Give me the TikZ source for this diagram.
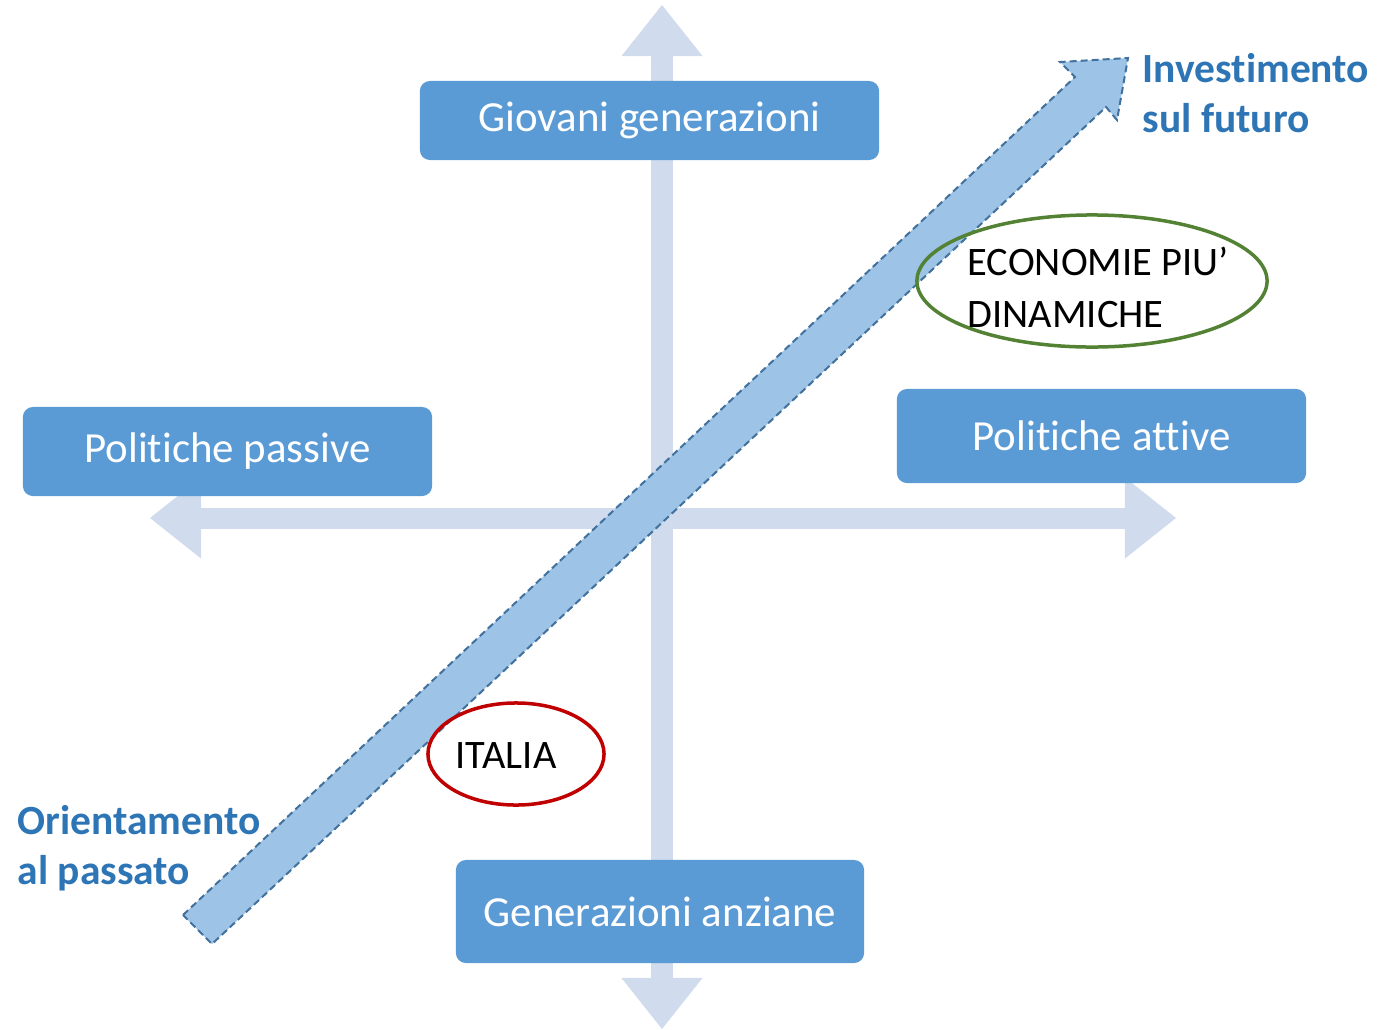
\documentclass[tikz,border=0pt]{standalone}
\usepackage{fontspec}
\setmainfont{Carlito}[RawFeature={-liga;-clig;-calt;-dlig;-rlig}]
\usepackage{tikz}
\usetikzlibrary{positioning,arrows.meta,shapes.geometric}
\definecolor{boxblue}{HTML}{5B9BD5}
\definecolor{axisblue}{HTML}{D0DCEE}
\definecolor{diagfill}{HTML}{9DC3E6}
\definecolor{diagline}{HTML}{41719C}
\definecolor{textblue}{HTML}{2E75B6}
\definecolor{ecogreen}{HTML}{548235}
\definecolor{itared}{HTML}{C00000}

\begin{document}
\begin{tikzpicture}[x=0.01cm,y=-0.01cm,
        box/.style={inner sep=0pt,align=center,fill=boxblue,text=white,rounded corners=0.1cm,font=\fontsize{12.2}{15}\selectfont},
        axisline/.style={draw=axisblue,line width=0.21cm,{Triangle[width=0.81cm,length=0.51cm,line width=0pt]}-{Triangle[width=0.81cm,length=0.51cm,line width=0pt]}},
        ring/.style={ellipse,draw,inner sep=0pt,line width=0.035cm},
        side/.style={inner sep=0pt,align=left,text=textblue,font=\bfseries\fontsize{11.8}{14}\selectfont},
        tag/.style={inner sep=0pt,align=left,font=\fontsize{11.5}{14.7}\selectfont}]
        \useasboundingbox (0,0) rectangle (1381,1030);
        % axes
        \coordinate (top) at (662,5);
        \coordinate (bottom) at (662,1029);
        \coordinate (left) at (150,518);
        \coordinate (right) at (1176,518);
        \draw[axisline] (top) -- (bottom);
        \draw[axisline] (left) -- (right);
        % boxes
        \node[box, minimum width=4.59cm, minimum height=0.79cm] (young) at (649.5,120.5) {Giovani generazioni};
        \node[box, minimum width=4.09cm, minimum height=0.89cm] (passive) at (227.5,451.5) {Politiche passive};
        \node[box, minimum width=4.09cm, minimum height=0.94cm] (active) at (1101.5,436) {Politiche attive};
        \node[box, minimum width=4.08cm, minimum height=1.03cm] (old) at (660,911.5) {Generazioni anziane};
        % diagonal arrow
        \coordinate (tailup) at (183,915);
        \coordinate (taildown) at (212,944);
        \coordinate (neckup) at (1075,77);
        \coordinate (neckdown) at (1106,107);
        \coordinate (headup) at (1060,62);
        \coordinate (headdown) at (1117,120);
        \coordinate (tip) at (1128,58);
        \draw[fill=diagfill, draw=diagline, line width=0.02cm, dash pattern=on 0.07cm off 0.04cm]
            (tailup) -- (neckup) -- (headup) -- (tip) -- (headdown) -- (neckdown) -- (taildown) -- cycle;
        % ellipses
        \node[ring, draw=ecogreen, minimum width=3.5cm, minimum height=1.32cm] (eco) at (1092,281) {};
        \node[tag, anchor=base west] (ecotext) at (967,327) {ECONOMIE PIU’\\DINAMICHE};
        \node[ring, draw=itared, minimum width=1.76cm, minimum height=1.02cm] (ita) at (516,754) {};
        \node[tag, anchor=base west] (itatext) at (455,768) {ITALIA};
        % side labels
        \node[side, anchor=base west] (fut) at (1142,132) {Investimento\\sul futuro};
        \node[side, anchor=base west] (past) at (17,884) {Orientamento\\al passato};
\end{tikzpicture}
\end{document}
